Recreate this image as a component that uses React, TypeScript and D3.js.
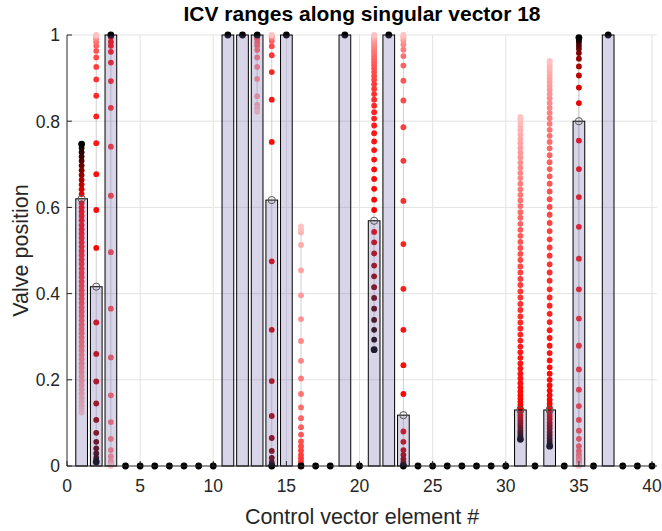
import React from "react";
import * as d3 from "d3";

// ---------- data ----------
const elementNumbers = [1,2,3,4,5,6,7,8,9,10,11,12,13,14,15,16,17,18,19,20,21,22,23,24,25,26,27,28,29,30,31,32,33,34,35,36,37,38,39,40];

// bar height = current (base) valve position
const baseValues = [0.62,0.416,1,0,0,0,0,0,0,0,1,1,1,0.617,1,0,0,0,1,0,0.569,1,0.118,0,0,0,0,0,0,0,0.13,0,0.13,0,0.8,0,1,0,0,0];

// value at the far (black) end of the range
const endValues = [0.747,0.009,1,0,0,0,0,0,0,0,1,1,1,0,1,0,0,0,1,0,0.27,1,0,0,0,0,0,0,0,0,0.062,0,0.046,0,0.994,0,1,0,0,0];

// intermediate steps toward the black end (from base outward)
const col1Pos = [0.631,0.642,0.653,0.664,0.675,0.686,0.697,0.708,0.718,0.728,0.738];
const col2Pos = [0.333,0.26,0.196,0.145,0.107,0.077,0.056,0.041,0.029,0.019,0.013];
const col14Pos = [0.475,0.316,0.197,0.116,0.065,0.035,0.019,0.009,0.004,0.002,0.001];
const col21Pos = [0.543,0.519,0.493,0.465,0.44,0.415,0.39,0.365,0.339,0.316,0.293];
const col23Pos = [0.08,0.056,0.037,0.026,0.016,0.009,0.005,0.003,0.002,0.001,0.0005];
const col31Pos = [0.124,0.118,0.112,0.106,0.1,0.094,0.088,0.082,0.077,0.072,0.067];
const col33Pos = [0.123,0.116,0.109,0.101,0.094,0.087,0.079,0.072,0.065,0.058,0.052];
const col35Pos = [0.842,0.878,0.906,0.927,0.945,0.958,0.968,0.975,0.982,0.987,0.991];

// steps toward the faded end (from base outward)
const col1Neg = [0.61,0.6,0.59,0.58,0.57,0.559,0.549,0.539,0.529,0.519,0.509,0.499,0.489,0.479,0.469,0.458,0.448,0.438,0.428,0.418,0.408,0.398,0.388,0.378,0.368,0.358,0.348,0.338,0.328,0.318,0.308,0.298,0.288,0.278,0.268,0.258,0.248,0.238,0.228,0.218,0.208,0.198,0.188,0.178,0.168,0.158,0.149,0.14,0.132,0.124];
const col2Neg = [0.506,0.594,0.677,0.749,0.811,0.859,0.897,0.926,0.948,0.963,0.975,0.983,0.989,0.993,0.996,0.998,0.999,1];
const col3Neg = [0.995,0.984,0.975,0.961,0.936,0.893,0.831,0.741,0.627,0.496,0.365,0.252,0.164,0.102,0.063,0.037,0.022,0.011,0.005,0.002,0];
const col13Neg = [1,1,1,1,1,1,1,1,1,1,0.995,0.99,0.982,0.975,0.965,0.948,0.926,0.898,0.858,0.838,0.83,0.822];
const col14Neg = [0.752,0.85,0.914,0.953,0.974,0.986,0.993,0.997,0.999,1];
const col16Neg = [0,0,0,0,0,0,0,0,0,0,0.003,0.01,0.018,0.026,0.036,0.046,0.057,0.073,0.09,0.111,0.136,0.167,0.203,0.244,0.29,0.341,0.396,0.454,0.513,0.542,0.549,0.556];
const col21Neg = [0.594,0.618,0.643,0.666,0.688,0.711,0.733,0.753,0.772,0.79,0.806,0.821,0.836,0.85,0.863,0.875,0.886,0.896,0.905,0.914,0.922,0.93,0.937,0.944,0.95,0.956,0.961,0.966,0.971,0.975,0.979,0.983,0.986,0.989,0.992,0.994,0.996,0.998,0.999,1];
const col23Neg = [0.167,0.234,0.316,0.411,0.515,0.615,0.708,0.786,0.848,0.894,0.929,0.951,0.966,0.978,0.987,0.993,0.997,1];
const col31Neg = [0.136,0.142,0.149,0.156,0.164,0.173,0.182,0.192,0.203,0.214,0.226,0.238,0.251,0.264,0.277,0.291,0.305,0.319,0.333,0.347,0.362,0.376,0.391,0.405,0.42,0.434,0.449,0.463,0.478,0.492,0.506,0.52,0.534,0.548,0.562,0.576,0.589,0.603,0.616,0.629,0.642,0.655,0.668,0.68,0.692,0.704,0.716,0.727,0.738,0.749,0.759,0.769,0.779,0.788,0.797,0.805,0.81];
const col33Neg = [0.137,0.145,0.154,0.164,0.175,0.187,0.2,0.214,0.229,0.245,0.262,0.279,0.297,0.315,0.334,0.353,0.372,0.391,0.41,0.43,0.449,0.468,0.488,0.507,0.526,0.545,0.564,0.583,0.601,0.619,0.637,0.655,0.672,0.689,0.705,0.721,0.737,0.752,0.766,0.78,0.794,0.807,0.819,0.831,0.842,0.853,0.863,0.873,0.882,0.891,0.899,0.907,0.914,0.921,0.927,0.933,0.938,0.94];
const col35Neg = [0.755,0.689,0.624,0.555,0.481,0.41,0.342,0.279,0.224,0.177,0.139,0.107,0.082,0.063,0.046,0.035,0.026,0.019,0.014,0.01,0.007,0.005,0.003,0.002,0.001,0];

const rangeTable = [
  { element: 1, pos: col1Pos, neg: col1Neg },
  { element: 2, pos: col2Pos, neg: col2Neg },
  { element: 3, pos: [], neg: col3Neg },
  { element: 13, pos: [], neg: col13Neg },
  { element: 14, pos: col14Pos, neg: col14Neg },
  { element: 16, pos: [], neg: col16Neg },
  { element: 21, pos: col21Pos, neg: col21Neg },
  { element: 23, pos: col23Pos, neg: col23Neg },
  { element: 31, pos: col31Pos, neg: col31Neg },
  { element: 33, pos: col33Pos, neg: col33Neg },
  { element: 35, pos: col35Pos, neg: col35Neg },
];

const xTicks = [0, 5, 10, 15, 20, 25, 30, 35, 40];
const yTicks = [0, 0.2, 0.4, 0.6, 0.8, 1];
const yTickLabels = ["0", "0.2", "0.4", "0.6", "0.8", "1"];

const titleText = "ICV ranges along singular vector 18";
const xLabelText = "Control vector element #";
const yLabelText = "Valve position";

// ---------- chart ----------
const FONT = "'Liberation Sans', Arial, Helvetica, sans-serif";

export default function App() {
  const W = 662, H = 531;
  const left = 67, right = 657, top = 35, bottom = 466;
  const x = d3.scaleLinear().domain([0, 40.34]).range([left, right]);
  const y = d3.scaleLinear().domain([0, 1]).range([bottom, top]);
  const barW = x(0.8) - x(0);

  const toBlack = d3.interpolateRgb("#ff0000", "#000000");
  const toFaded = d3.interpolateRgb("#ff0000", "#ffc2c2");

  type Dot = { cx: number; cy: number; fill: string; key: string };
  const dots: Dot[] = [];
  const rangeLines: { x: number; y1: number; y2: number; key: string }[] = [];

  rangeTable.forEach((r) => {
    const idx = r.element - 1;
    const all = [baseValues[idx], endValues[idx], ...r.pos, ...r.neg];
    rangeLines.push({ x: x(r.element), y1: y(d3.min(all) as number), y2: y(d3.max(all) as number), key: "l" + r.element });
    r.neg.forEach((v, i) => {
      const f = Math.pow((i + 1) / r.neg.length, 1.4);
      dots.push({ cx: x(r.element), cy: y(v), fill: toFaded(f), key: `n${r.element}-${i}` });
    });
    r.pos.forEach((v, i) => {
      const f = (i + 1) / (r.pos.length + 1);
      dots.push({ cx: x(r.element), cy: y(v), fill: toBlack(f), key: `p${r.element}-${i}` });
    });
  });

  return (
    <div style={{ position: "fixed", left: 0, top: 0, width: W, height: H, background: "#fff" }}>
      <svg width={W} height={H} style={{ display: "block" }} fontFamily={FONT}>
        <rect x={0} y={0} width={W} height={H} fill="#ffffff" />
        {/* grid */}
        {xTicks.filter((t) => t > 0).map((t) => (
          <line key={"gx" + t} x1={x(t)} x2={x(t)} y1={top} y2={bottom} stroke="#e3e3e3" strokeWidth={1} />
        ))}
        {yTicks.filter((t) => t > 0).map((t) => (
          <line key={"gy" + t} x1={left} x2={right} y1={y(t)} y2={y(t)} stroke="#e3e3e3" strokeWidth={1} />
        ))}

        {/* range lines */}
        {rangeLines.map((l) => (
          <line key={l.key} x1={l.x} x2={l.x} y1={l.y1} y2={l.y2} stroke="#b0b0b0" strokeWidth={0.6} />
        ))}

        {/* range dots */}
        {dots.map((d) => (
          <circle key={d.key} cx={d.cx} cy={d.cy} r={2.9} fill={d.fill} />
        ))}

        {/* black end dots */}
        {elementNumbers.map((e, i) => (
          <circle key={"e" + e} cx={x(e)} cy={y(endValues[i])} r={3.4} fill="#000" />
        ))}

        {/* bars */}
        {elementNumbers.map((e, i) =>
          baseValues[i] > 0 ? (
            <rect
              key={"b" + e}
              x={x(e) - barW / 2}
              y={y(baseValues[i])}
              width={barW}
              height={y(0) - y(baseValues[i])}
              fill="rgb(110,100,170)"
              fillOpacity={0.27}
              stroke="#000"
              strokeWidth={1}
            />
          ) : null
        )}

        {/* base circles */}
        {elementNumbers.map((e, i) =>
          baseValues[i] > 0 && endValues[i] !== baseValues[i] ? (
            <circle key={"c" + e} cx={x(e)} cy={y(baseValues[i])} r={3.6} fill="none" stroke="#555" strokeWidth={1} />
          ) : null
        )}

        {/* axes */}
        <line x1={left} x2={left} y1={top} y2={bottom} stroke="#262626" strokeWidth={1} />
        <line x1={left} x2={right} y1={bottom} y2={bottom} stroke="#262626" strokeWidth={1} />
        {yTicks.map((t, i) => (
          <g key={"yt" + t}>
            <line x1={left} x2={left + 5} y1={y(t)} y2={y(t)} stroke="#262626" strokeWidth={1} />
            <text x={left - 7} y={y(t)} dy="0.36em" textAnchor="end" fontSize={17.5} fill="#262626">
              {yTickLabels[i]}
            </text>
          </g>
        ))}
        {xTicks.map((t) => (
          <g key={"xt" + t}>
            <line x1={x(t)} x2={x(t)} y1={bottom} y2={bottom - 5} stroke="#262626" strokeWidth={1} />
            <text x={x(t)} y={bottom + 26} textAnchor="middle" fontSize={17.5} fill="#262626">
              {t}
            </text>
          </g>
        ))}

        {/* labels */}
        <text x={(left + right) / 2} y={21} textAnchor="middle" fontSize={21} fontWeight="bold" fill="#000">
          {titleText}
        </text>
        <text x={(left + right) / 2} y={524} textAnchor="middle" fontSize={21.5} fill="#262626">
          {xLabelText}
        </text>
        <text
          transform={`translate(28, ${(top + bottom) / 2}) rotate(-90)`}
          textAnchor="middle"
          fontSize={21.5}
          fill="#262626"
        >
          {yLabelText}
        </text>
      </svg>
    </div>
  );
}
